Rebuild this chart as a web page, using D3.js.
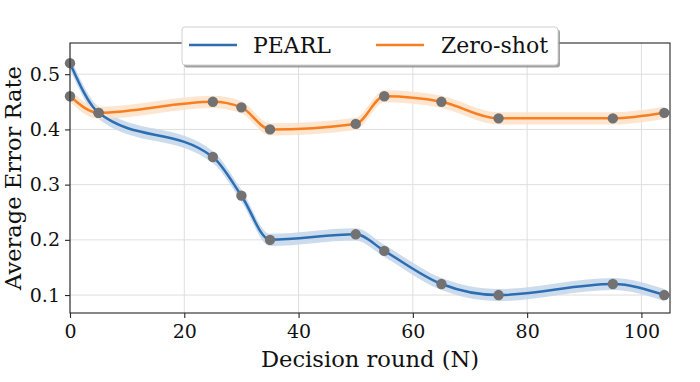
<!DOCTYPE html>
<html><head><meta charset="utf-8">
<script src="https://cdn.jsdelivr.net/npm/d3@7"></script>
<style>body{margin:0;background:#fff}svg{display:block}</style>
</head><body>
<script>
const rounds = [0, 5, 25, 30, 35, 50, 55, 65, 75, 95, 104];
const pearl = [0.52, 0.43, 0.35, 0.28, 0.20, 0.21, 0.18, 0.12, 0.10, 0.12, 0.10];
const zeroShot = [0.46, 0.43, 0.45, 0.44, 0.40, 0.41, 0.46, 0.45, 0.42, 0.42, 0.43];
const band = 0.011;
const xTicks = [0, 20, 40, 60, 80, 100];
const yTicks = [0.1, 0.2, 0.3, 0.4, 0.5];
const seriesNames = ["PEARL", "Zero-shot"];

const W = 700, H = 382;
const m = {left: 70, right: 30, top: 43, bottom: 69};
const font = "DejaVu Serif";
const svg = d3.select("body").append("svg").attr("width", W).attr("height", H);
const x = d3.scaleLinear().domain([0, 105]).range([m.left, W - m.right]);
const y = d3.scaleLinear().domain([0.0675, 0.5565]).range([H - m.bottom, m.top]);

// grid
const g = svg.append("g");
g.selectAll(".gx").data(xTicks).join("line")
  .attr("x1", d => x(d)).attr("x2", d => x(d)).attr("y1", y.range()[0]).attr("y2", y.range()[1])
  .attr("stroke", "#dedede").attr("stroke-width", 1);
g.selectAll(".gy").data(yTicks).join("line")
  .attr("y1", d => y(d)).attr("y2", d => y(d)).attr("x1", x.range()[0]).attr("x2", x.range()[1])
  .attr("stroke", "#dedede").attr("stroke-width", 1);

const series = [
  {name: seriesNames[0], vals: pearl, color: "#2d6db2", fill: "#c3d6ea"},
  {name: seriesNames[1], vals: zeroShot, color: "#f77f1f", fill: "#fde0c8"}
];
const curve = d3.curveMonotoneX;
series.forEach(s => {
  const data = rounds.map((r, i) => ({x: r, y: s.vals[i]}));
  const area = d3.area().curve(curve).x(d => x(d.x)).y0(d => y(d.y - band)).y1(d => y(d.y + band));
  svg.append("path").datum(data).attr("d", area).attr("fill", s.fill).attr("opacity", 0.85);
});
series.forEach(s => {
  const data = rounds.map((r, i) => ({x: r, y: s.vals[i]}));
  const line = d3.line().curve(curve).x(d => x(d.x)).y(d => y(d.y));
  svg.append("path").datum(data).attr("d", line).attr("fill", "none")
    .attr("stroke", s.color).attr("stroke-width", 2.5);
});
series.forEach(s => {
  svg.append("g").selectAll("circle").data(rounds.map((r, i) => ({x: r, y: s.vals[i]}))).join("circle")
    .attr("cx", d => x(d.x)).attr("cy", d => y(d.y)).attr("r", 5.2).attr("fill", "#727272");
});

// frame
svg.append("rect").attr("x", m.left).attr("y", m.top).attr("width", W - m.left - m.right)
  .attr("height", H - m.top - m.bottom).attr("fill", "none").attr("stroke", "#262626").attr("stroke-width", 1.1);

// axes
const xa = svg.append("g").attr("transform", `translate(0,${H - m.bottom})`)
  .call(d3.axisBottom(x).tickValues(xTicks).tickSize(5).tickPadding(7).tickFormat(d3.format("d")));
const ya = svg.append("g").attr("transform", `translate(${m.left},0)`)
  .call(d3.axisLeft(y).tickValues(yTicks).tickSize(5).tickPadding(5).tickFormat(d3.format(".1f")));
[xa, ya].forEach(a => {
  a.select(".domain").remove();
  a.selectAll("line").attr("stroke", "#262626").attr("stroke-width", 1.1);
  a.selectAll("text").attr("font-family", font).attr("font-size", 19).attr("fill", "#111");
});

svg.append("text").attr("x", (m.left + W - m.right) / 2).attr("y", 367).attr("text-anchor", "middle")
  .attr("font-family", font).attr("font-size", 22.6).attr("fill", "#111").text("Decision round (N)");
svg.append("text").attr("transform", `translate(20.5,${(m.top + H - m.bottom) / 2}) rotate(-90)`)
  .attr("text-anchor", "middle").attr("font-family", font).attr("font-size", 22.6).attr("fill", "#111")
  .text("Average Error Rate");

// legend
const lg = svg.append("g");
const lx = 182, ly = 27, lw = 376, lh = 38;
lg.append("rect").attr("x", lx + 2).attr("y", ly + 2.5).attr("width", lw).attr("height", lh).attr("rx", 3)
  .attr("fill", "#8a8a8a").attr("opacity", 0.8);
lg.append("rect").attr("x", lx).attr("y", ly).attr("width", lw).attr("height", lh).attr("rx", 3)
  .attr("fill", "#fff").attr("stroke", "#d0d0d0").attr("stroke-width", 1);
const items = [{sx: 189, tx: 253}, {sx: 376, tx: 441}];
series.forEach((s, i) => {
  lg.append("line").attr("x1", items[i].sx).attr("x2", items[i].sx + 48).attr("y1", ly + 18).attr("y2", ly + 18)
    .attr("stroke", s.color).attr("stroke-width", 2.5);
  lg.append("text").attr("x", items[i].tx).attr("y", ly + 26).attr("font-family", font).attr("font-size", 22)
    .attr("fill", "#111").text(s.name);
});
</script>
</body></html>
